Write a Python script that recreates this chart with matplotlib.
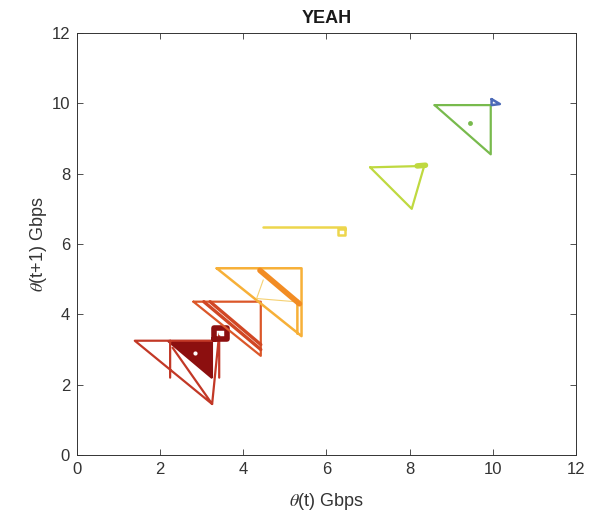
import numpy as np
import matplotlib
matplotlib.use("Agg")
import matplotlib.pyplot as plt

plt.rcParams['font.family'] = ['Liberation Sans', 'DejaVu Sans']
plt.rcParams['mathtext.fontset'] = 'stix'

nan = np.nan

# trajectories (theta(t), theta(t+1)) in Gbps, one per flow, dark red -> blue
dkred_fill_x = [2.18, 3.25, 3.25]
dkred_fill_y = [3.25, 3.25, 2.18]
dkred_sq_x = [3.30, 3.60, 3.60, 3.30, 3.30]
dkred_sq_y = [3.30, 3.30, 3.62, 3.62, 3.30]
dkred_hole_x = [2.84, 3.45]
dkred_hole_y = [2.91, 3.47]

red_x = [3.42, 1.39, 3.25, 3.42, 3.42, nan, 2.24, 2.24, nan, 2.30, 3.25]
red_y = [3.25, 3.25, 1.45, 3.45, 2.20, nan, 3.25, 2.20, nan, 3.05, 1.45]

ored_x = [2.80, 4.42, 4.42, 2.80]
ored_y = [4.36, 4.36, 2.82, 4.36]
ored2_x = [3.05, 4.42, nan, 3.20, 4.42]
ored2_y = [4.36, 3.00, nan, 4.36, 3.14]

lorange_x = [3.36, 5.40, 5.40, 3.36, nan, 5.30, 5.30]
lorange_y = [5.31, 5.31, 3.38, 5.31, nan, 4.40, 3.45]
orange_x = [4.40, 5.35]
orange_y = [5.25, 4.30]
faint_x = [4.48, 4.32, 5.24]
faint_y = [4.98, 4.45, 4.36]

yellow_x = [4.48, 6.45, 6.45, 6.28, 6.28, 6.45]
yellow_y = [6.47, 6.47, 6.25, 6.25, 6.42, 6.42]

ygreen_x = [7.05, 8.35, 8.05, 7.05]
ygreen_y = [8.18, 8.22, 7.00, 8.18]
ygreen_tip_x = [8.18, 8.38]
ygreen_tip_y = [8.22, 8.24]

green_x = [8.60, 9.95, 9.95, 8.60]
green_y = [9.95, 9.95, 8.55, 9.95]
green_dot = (9.45, 9.43)

blue_x = [9.97, 10.17, 9.97, 9.97]
blue_y = [10.12, 9.98, 9.95, 10.12]

c_dkred = (0.55, 0.06, 0.06)
c_red = (0.76, 0.22, 0.15)
c_ored = (0.86, 0.34, 0.16)
c_lorange = (0.97, 0.69, 0.22)
c_orange = (0.95, 0.55, 0.14)
c_yellow = (0.93, 0.84, 0.30)
c_ygreen = (0.75, 0.85, 0.25)
c_green = (0.47, 0.73, 0.30)
c_blue = (0.30, 0.42, 0.72)
c_axis = (0.2, 0.2, 0.2)

fig = plt.figure(figsize=(6.11, 5.19), dpi=100)
ax = fig.add_axes([0.126, 0.1233, 0.8167, 0.8131])

kw = dict(solid_joinstyle='round', solid_capstyle='round')
ax.plot(red_x, red_y, color=c_red, lw=1.6, **kw)
ax.fill(dkred_fill_x, dkred_fill_y, color=c_dkred, lw=1.5)
ax.plot(dkred_sq_x, dkred_sq_y, color=c_dkred, lw=4, **kw)
ax.plot(dkred_hole_x, dkred_hole_y, 'o', color='white', ms=3, mec='none')
ax.plot(ored_x, ored_y, color=c_ored, lw=1.6, **kw)
ax.plot(ored2_x, ored2_y, color=(0.82, 0.28, 0.14), lw=2.4, **kw)
ax.plot(lorange_x, lorange_y, color=c_lorange, lw=1.8, **kw)
ax.plot(faint_x, faint_y, color=(0.96, 0.82, 0.45), lw=0.8, **kw)
ax.plot(orange_x, orange_y, color=c_orange, lw=4, **kw)
ax.plot(yellow_x, yellow_y, color=c_yellow, lw=1.8, **kw)
ax.plot(ygreen_x, ygreen_y, color=c_ygreen, lw=1.6, **kw)
ax.plot(ygreen_tip_x, ygreen_tip_y, color=c_ygreen, lw=4, **kw)
ax.plot(green_x, green_y, color=c_green, lw=1.6, **kw)
ax.plot(*green_dot, 'o', color=c_green, ms=3.5, mec='none')
ax.plot(blue_x, blue_y, color=c_blue, lw=1.8, **kw)

ax.set_xlim(0, 12)
ax.set_ylim(0, 12)
ax.set_xticks(range(0, 13, 2))
ax.set_yticks(range(0, 13, 2))
ax.tick_params(direction='in', top=True, right=True, length=4, width=0.6,
               labelsize=12, colors=c_axis, pad=5)
for s in ax.spines.values():
    s.set_color(c_axis)
    s.set_linewidth(0.7)

ax.set_title('YEAH', fontsize=13, fontweight='bold', pad=7, color=(0.1, 0.1, 0.1))
ax.set_xlabel(r'$\theta$(t) Gbps', fontsize=13, color=c_axis, labelpad=10)
ax.set_ylabel(r'$\theta$(t+1) Gbps', fontsize=13, color=c_axis, labelpad=2)

fig.savefig('out.png', dpi=100)
